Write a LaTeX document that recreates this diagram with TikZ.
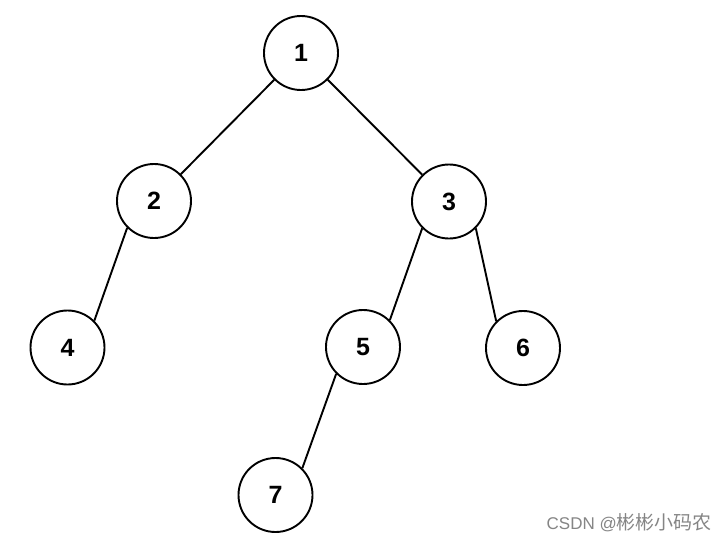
\documentclass[tikz,border=0pt]{standalone}
\usepackage{fontspec}
\setmainfont{Liberation Sans}
\newfontfamily\cjkfont{Noto Sans CJK SC}
\begin{document}
\begin{tikzpicture}[x=1pt,y=-1pt,
  treenode/.style={circle,draw=black,line width=1.9pt,minimum size=74pt,inner sep=0pt,font=\fontsize{25}{25}\selectfont\bfseries},
  edge/.style={draw=black,line width=1.9pt}]
\useasboundingbox[fill=white] (0,0) rectangle (727,544);
\node[treenode] (n1) at (301,53) {1};
\node[treenode] (n2) at (154,201) {2};
\node[treenode] (n3) at (449,201.5) {3};
\node[treenode] (n4) at (67.5,347.5) {4};
\node[treenode] (n5) at (363,347) {5};
\node[treenode] (n6) at (523,348) {6};
\node[treenode] (n7) at (275.5,495) {7};
\path[edge] (n1.south west) -- (n2.north east);
\path[edge] (n1.south east) -- (n3.north west);
\path[edge] (n2.south west) -- (n4.north east);
\path[edge] (n3.south west) -- (n5.north east);
\path[edge] (n3.south east) -- (n6.north west);
\path[edge] (n5.south west) -- (n7.north east);
\node[anchor=east,text=black!48,font=\fontsize{17}{17}\selectfont,inner sep=0pt] (wm) at (712,523) {CSDN @{\cjkfont\fontsize{19}{19}\selectfont 彬彬小码农}};
\end{tikzpicture}
\end{document}
